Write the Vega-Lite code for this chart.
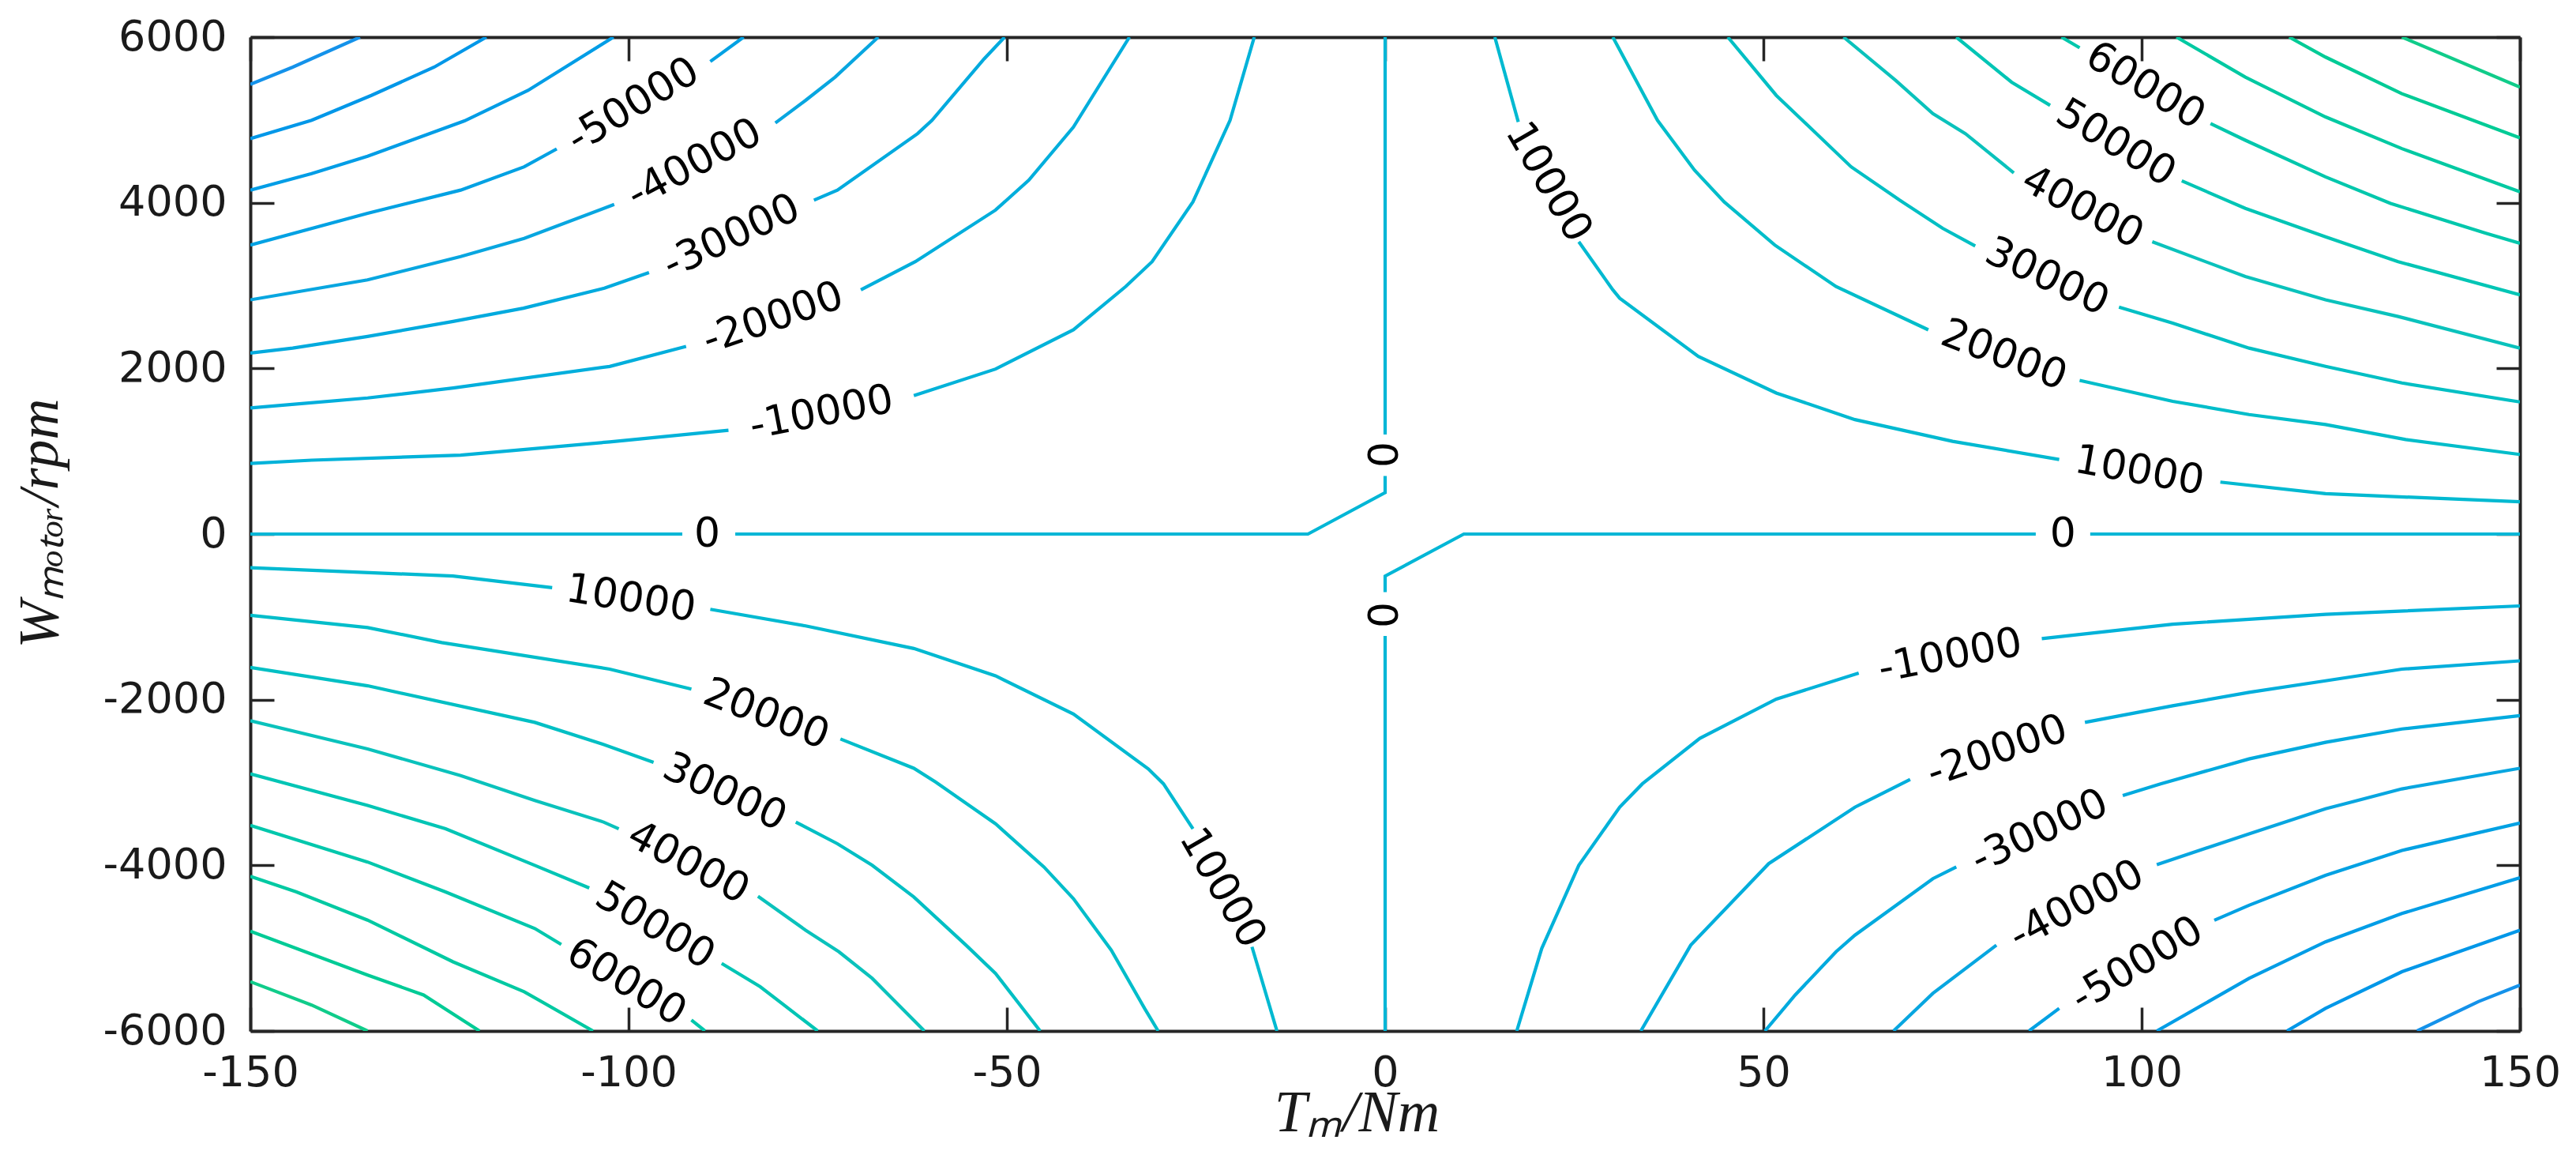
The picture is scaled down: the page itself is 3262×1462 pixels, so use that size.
{
"$schema": "https://vega.github.io/schema/vega-lite/v6.json",
"width": 2874, "height": 1258,
"autosize": {"type": "none"},
"padding": {"left": 317, "top": 47, "right": 71, "bottom": 157},
"background": "white",
"config": {
  "view": {"stroke": null},
  "axis": {"domainColor": "#262626", "domainWidth": 4, "tickColor": "#262626", "tickWidth": 3.5, "tickSize": -30,
           "labelFont": "DejaVu Sans", "labelFontSize": 54, "labelColor": "#1a1a1a", "grid": false, "format": "d",
           "labelFlush": false, "labelOverlap": false, "titleColor": "#1a1a1a"}
},
"datasets": {
"lines": [
{"s":"m10a","v":-10000,"T":-150,"W":852},{"s":"m10a","v":-10000,"T":-141.9,"W":892},{"s":"m10a","v":-10000,"T":-122.2,"W":953},{"s":"m10a","v":-10000,"T":-102.5,"W":1113},{"s":"m10a","v":-10000,"T":-86.8,"W":1254},
{"s":"m10b","v":-10000,"T":-62.3,"W":1671},{"s":"m10b","v":-10000,"T":-51.5,"W":1992},{"s":"m10b","v":-10000,"T":-41.2,"W":2466},{"s":"m10b","v":-10000,"T":-34.3,"W":2988},{"s":"m10b","v":-10000,"T":-30.8,"W":3289},{"s":"m10b","v":-10000,"T":-25.4,"W":4012},{"s":"m10b","v":-10000,"T":-20.5,"W":4996},{"s":"m10b","v":-10000,"T":-17.3,"W":6000},
{"s":"m20a","v":-20000,"T":-150,"W":1523},{"s":"m20a","v":-20000,"T":-134.5,"W":1643},{"s":"m20a","v":-20000,"T":-123.2,"W":1764},{"s":"m20a","v":-20000,"T":-102.5,"W":2024},{"s":"m20a","v":-20000,"T":-92.4,"W":2265},
{"s":"m20b","v":-20000,"T":-69.3,"W":2948},{"s":"m20b","v":-20000,"T":-62.1,"W":3289},{"s":"m20b","v":-20000,"T":-51.5,"W":3912},{"s":"m20b","v":-20000,"T":-47.1,"W":4273},{"s":"m20b","v":-20000,"T":-41.2,"W":4915},{"s":"m20b","v":-20000,"T":-33.8,"W":6000},
{"s":"m30a","v":-30000,"T":-150,"W":2185},{"s":"m30a","v":-30000,"T":-144.4,"W":2245},{"s":"m30a","v":-30000,"T":-134.5,"W":2386},{"s":"m30a","v":-30000,"T":-123.2,"W":2567},{"s":"m30a","v":-30000,"T":-113.9,"W":2727},{"s":"m30a","v":-30000,"T":-103.2,"W":2968},{"s":"m30a","v":-30000,"T":-97.3,"W":3157},
{"s":"m30b","v":-30000,"T":-75.5,"W":4032},{"s":"m30b","v":-30000,"T":-72.4,"W":4153},{"s":"m30b","v":-30000,"T":-61.8,"W":4835},{"s":"m30b","v":-30000,"T":-59.9,"W":4996},{"s":"m30b","v":-30000,"T":-53.0,"W":5738},{"s":"m30b","v":-30000,"T":-50.3,"W":6000},
{"s":"m40a","v":-40000,"T":-150,"W":2828},{"s":"m40a","v":-40000,"T":-134.5,"W":3069},{"s":"m40a","v":-40000,"T":-122.2,"W":3350},{"s":"m40a","v":-40000,"T":-113.8,"W":3570},{"s":"m40a","v":-40000,"T":-101.9,"W":3980},
{"s":"m40b","v":-40000,"T":-80.6,"W":4964},{"s":"m40b","v":-40000,"T":-76.6,"W":5237},{"s":"m40b","v":-40000,"T":-72.7,"W":5518},{"s":"m40b","v":-40000,"T":-67.0,"W":6000},
{"s":"m50a","v":-50000,"T":-150,"W":3490},{"s":"m50a","v":-50000,"T":-134.5,"W":3872},{"s":"m50a","v":-50000,"T":-122.2,"W":4153},{"s":"m50a","v":-50000,"T":-113.8,"W":4434},{"s":"m50a","v":-50000,"T":-109.5,"W":4650},
{"s":"m50b","v":-50000,"T":-89.2,"W":5706},{"s":"m50b","v":-50000,"T":-84.8,"W":6000},
{"s":"m60","v":-60000,"T":-150,"W":4153},{"s":"m60","v":-60000,"T":-141.9,"W":4353},{"s":"m60","v":-60000,"T":-134.5,"W":4562},{"s":"m60","v":-60000,"T":-121.7,"W":4988},{"s":"m60","v":-60000,"T":-113.3,"W":5357},{"s":"m60","v":-60000,"T":-102.0,"W":6000},
{"s":"m70","v":-70000,"T":-150,"W":4775},{"s":"m70","v":-70000,"T":-141.9,"W":4996},{"s":"m70","v":-70000,"T":-134.0,"W":5297},{"s":"m70","v":-70000,"T":-125.7,"W":5638},{"s":"m70","v":-70000,"T":-118.8,"W":6000},
{"s":"m80","v":-80000,"T":-150,"W":5429},{"s":"m80","v":-80000,"T":-144.4,"W":5638},{"s":"m80","v":-80000,"T":-135.5,"W":6000},
{"s":"p10a","v":10000,"T":14.5,"W":6000},{"s":"p10a","v":10000,"T":17.6,"W":4976},
{"s":"p10b","v":10000,"T":25.6,"W":3530},{"s":"p10b","v":10000,"T":30.1,"W":2948},{"s":"p10b","v":10000,"T":31.0,"W":2848},{"s":"p10b","v":10000,"T":41.4,"W":2145},{"s":"p10b","v":10000,"T":51.7,"W":1703},{"s":"p10b","v":10000,"T":62.1,"W":1382},{"s":"p10b","v":10000,"T":75.0,"W":1120},{"s":"p10b","v":10000,"T":89.1,"W":900},
{"s":"p10c","v":10000,"T":110.4,"W":627},{"s":"p10c","v":10000,"T":124.3,"W":487},{"s":"p10c","v":10000,"T":150,"W":390},
{"s":"p20a","v":20000,"T":30.1,"W":6000},{"s":"p20a","v":20000,"T":36.0,"W":4996},{"s":"p20a","v":20000,"T":40.9,"W":4393},{"s":"p20a","v":20000,"T":44.8,"W":4012},{"s":"p20a","v":20000,"T":51.5,"W":3490},{"s":"p20a","v":20000,"T":59.6,"W":2988},{"s":"p20a","v":20000,"T":71.8,"W":2466},
{"s":"p20b","v":20000,"T":91.8,"W":1856},{"s":"p20b","v":20000,"T":104.1,"W":1603},{"s":"p20b","v":20000,"T":114.2,"W":1443},{"s":"p20b","v":20000,"T":124.3,"W":1322},{"s":"p20b","v":20000,"T":134.9,"W":1141},{"s":"p20b","v":20000,"T":150,"W":961},
{"s":"p30a","v":30000,"T":45.3,"W":6000},{"s":"p30a","v":30000,"T":51.7,"W":5297},{"s":"p30a","v":30000,"T":61.6,"W":4434},{"s":"p30a","v":30000,"T":68.0,"W":4032},{"s":"p30a","v":30000,"T":73.7,"W":3691},{"s":"p30a","v":30000,"T":78.0,"W":3478},
{"s":"p30b","v":30000,"T":97.0,"W":2739},{"s":"p30b","v":30000,"T":104.1,"W":2546},{"s":"p30b","v":30000,"T":114.2,"W":2245},{"s":"p30b","v":30000,"T":124.3,"W":2025},{"s":"p30b","v":30000,"T":134.4,"W":1824},{"s":"p30b","v":30000,"T":150,"W":1595},
{"s":"p40a","v":40000,"T":60.6,"W":6000},{"s":"p40a","v":40000,"T":67.5,"W":5477},{"s":"p40a","v":40000,"T":72.4,"W":5076},{"s":"p40a","v":40000,"T":76.7,"W":4835},{"s":"p40a","v":40000,"T":83.1,"W":4361},
{"s":"p40b","v":40000,"T":101.4,"W":3530},{"s":"p40b","v":40000,"T":113.7,"W":3109},{"s":"p40b","v":40000,"T":124.3,"W":2828},{"s":"p40b","v":40000,"T":133.9,"W":2627},{"s":"p40b","v":40000,"T":150,"W":2245},
{"s":"p50a","v":50000,"T":75.5,"W":6000},{"s":"p50a","v":50000,"T":82.8,"W":5457},{"s":"p50a","v":50000,"T":87.9,"W":5176},
{"s":"p50b","v":50000,"T":105.3,"W":4265},{"s":"p50b","v":50000,"T":113.7,"W":3932},{"s":"p50b","v":50000,"T":124.3,"W":3590},{"s":"p50b","v":50000,"T":133.9,"W":3289},{"s":"p50b","v":50000,"T":150,"W":2888},
{"s":"p60a","v":60000,"T":89.4,"W":6000},{"s":"p60a","v":60000,"T":91.8,"W":5871},
{"s":"p60b","v":60000,"T":109.1,"W":4956},{"s":"p60b","v":60000,"T":113.7,"W":4755},{"s":"p60b","v":60000,"T":124.3,"W":4313},{"s":"p60b","v":60000,"T":132.9,"W":3992},{"s":"p60b","v":60000,"T":145.5,"W":3631},{"s":"p60b","v":60000,"T":150,"W":3510},
{"s":"p70","v":70000,"T":104.6,"W":6000},{"s":"p70","v":70000,"T":113.7,"W":5518},{"s":"p70","v":70000,"T":124.3,"W":5036},{"s":"p70","v":70000,"T":134.4,"W":4654},{"s":"p70","v":70000,"T":150,"W":4132},
{"s":"p80","v":80000,"T":119.5,"W":6000},{"s":"p80","v":80000,"T":124.3,"W":5759},{"s":"p80","v":80000,"T":134.4,"W":5317},{"s":"p80","v":80000,"T":150,"W":4783},
{"s":"p90","v":90000,"T":134.4,"W":6000},{"s":"p90","v":90000,"T":150,"W":5397},
{"s":"q10a","v":10000,"T":-150,"W":-407},{"s":"q10a","v":10000,"T":-123.2,"W":-507},{"s":"q10a","v":10000,"T":-110.1,"W":-648},
{"s":"q10b","v":10000,"T":-89.2,"W":-909},{"s":"q10b","v":10000,"T":-76.6,"W":-1109},{"s":"q10b","v":10000,"T":-62.3,"W":-1382},{"s":"q10b","v":10000,"T":-51.5,"W":-1712},{"s":"q10b","v":10000,"T":-41.2,"W":-2173},{"s":"q10b","v":10000,"T":-31.3,"W":-2836},{"s":"q10b","v":10000,"T":-29.3,"W":-3016},{"s":"q10b","v":10000,"T":-25.4,"W":-3559},
{"s":"q10c","v":10000,"T":-17.6,"W":-4984},{"s":"q10c","v":10000,"T":-14.3,"W":-6000},
{"s":"q20a","v":20000,"T":-150,"W":-981},{"s":"q20a","v":20000,"T":-134.5,"W":-1129},{"s":"q20a","v":20000,"T":-124.7,"W":-1310},{"s":"q20a","v":20000,"T":-102.5,"W":-1631},{"s":"q20a","v":20000,"T":-91.7,"W":-1872},
{"s":"q20b","v":20000,"T":-72.0,"W":-2474},{"s":"q20b","v":20000,"T":-62.3,"W":-2828},{"s":"q20b","v":20000,"T":-59.4,"W":-2996},{"s":"q20b","v":20000,"T":-51.5,"W":-3498},{"s":"q20b","v":20000,"T":-45.1,"W":-4020},{"s":"q20b","v":20000,"T":-41.2,"W":-4402},{"s":"q20b","v":20000,"T":-36.2,"W":-5024},{"s":"q20b","v":20000,"T":-31.8,"W":-5727},{"s":"q20b","v":20000,"T":-30.0,"W":-6000},
{"s":"q30a","v":30000,"T":-150,"W":-1611},{"s":"q30a","v":30000,"T":-134.5,"W":-1832},{"s":"q30a","v":30000,"T":-112.4,"W":-2274},{"s":"q30a","v":30000,"T":-103.5,"W":-2535},{"s":"q30a","v":30000,"T":-96.7,"W":-2756},
{"s":"q30b","v":30000,"T":-77.9,"W":-3478},{"s":"q30b","v":30000,"T":-72.4,"W":-3739},{"s":"q30b","v":30000,"T":-67.8,"W":-4000},{"s":"q30b","v":30000,"T":-62.3,"W":-4382},{"s":"q30b","v":30000,"T":-55.4,"W":-4964},{"s":"q30b","v":30000,"T":-51.5,"W":-5305},{"s":"q30b","v":30000,"T":-45.6,"W":-6000},
{"s":"q40a","v":40000,"T":-150,"W":-2254},{"s":"q40a","v":40000,"T":-134.5,"W":-2595},{"s":"q40a","v":40000,"T":-122.2,"W":-2916},{"s":"q40a","v":40000,"T":-112.4,"W":-3217},{"s":"q40a","v":40000,"T":-103.3,"W":-3478},{"s":"q40a","v":40000,"T":-101.3,"W":-3559},
{"s":"q40b","v":40000,"T":-82.9,"W":-4374},{"s":"q40b","v":40000,"T":-76.6,"W":-4783},{"s":"q40b","v":40000,"T":-72.2,"W":-5044},{"s":"q40b","v":40000,"T":-67.8,"W":-5365},{"s":"q40b","v":40000,"T":-60.9,"W":-6000},
{"s":"q50a","v":50000,"T":-150,"W":-2896},{"s":"q50a","v":50000,"T":-134.5,"W":-3277},{"s":"q50a","v":50000,"T":-124.2,"W":-3559},{"s":"q50a","v":50000,"T":-112.4,"W":-4000},{"s":"q50a","v":50000,"T":-105.2,"W":-4273},
{"s":"q50b","v":50000,"T":-87.7,"W":-5185},{"s":"q50b","v":50000,"T":-82.6,"W":-5466},{"s":"q50b","v":50000,"T":-75.0,"W":-6000},
{"s":"q60a","v":60000,"T":-150,"W":-3518},{"s":"q60a","v":60000,"T":-134.5,"W":-3960},{"s":"q60a","v":60000,"T":-124.2,"W":-4321},{"s":"q60a","v":60000,"T":-112.4,"W":-4763},{"s":"q60a","v":60000,"T":-108.9,"W":-4956},
{"s":"q60b","v":60000,"T":-91.7,"W":-5867},{"s":"q60b","v":60000,"T":-89.9,"W":-6000},
{"s":"q70","v":70000,"T":-150,"W":-4133},{"s":"q70","v":70000,"T":-143.9,"W":-4321},{"s":"q70","v":70000,"T":-134.5,"W":-4662},{"s":"q70","v":70000,"T":-123.2,"W":-5165},{"s":"q70","v":70000,"T":-113.8,"W":-5526},{"s":"q70","v":70000,"T":-104.7,"W":-6000},
{"s":"q80","v":80000,"T":-150,"W":-4795},{"s":"q80","v":80000,"T":-134.5,"W":-5325},{"s":"q80","v":80000,"T":-127.1,"W":-5566},{"s":"q80","v":80000,"T":-119.7,"W":-6000},
{"s":"q90","v":90000,"T":-150,"W":-5405},{"s":"q90","v":90000,"T":-141.9,"W":-5687},{"s":"q90","v":90000,"T":-134.5,"W":-6000},
{"s":"n10a","v":-10000,"T":17.4,"W":-6000},{"s":"n10a","v":-10000,"T":20.7,"W":-5004},{"s":"n10a","v":-10000,"T":25.6,"W":-4000},{"s":"n10a","v":-10000,"T":31.0,"W":-3298},{"s":"n10a","v":-10000,"T":34.0,"W":-3016},{"s":"n10a","v":-10000,"T":41.6,"W":-2466},{"s":"n10a","v":-10000,"T":51.7,"W":-1993},{"s":"n10a","v":-10000,"T":62.6,"W":-1680},
{"s":"n10b","v":-10000,"T":86.8,"W":-1262},{"s":"n10b","v":-10000,"T":104.1,"W":-1089},{"s":"n10b","v":-10000,"T":124.3,"W":-969},{"s":"n10b","v":-10000,"T":150,"W":-868},
{"s":"n20a","v":-20000,"T":33.8,"W":-6000},{"s":"n20a","v":-20000,"T":40.4,"W":-4964},{"s":"n20a","v":-20000,"T":50.7,"W":-3980},{"s":"n20a","v":-20000,"T":62.1,"W":-3298},{"s":"n20a","v":-20000,"T":69.4,"W":-2964},
{"s":"n20b","v":-20000,"T":92.5,"W":-2274},{"s":"n20b","v":-20000,"T":104.1,"W":-2073},{"s":"n20b","v":-20000,"T":114.2,"W":-1912},{"s":"n20b","v":-20000,"T":124.3,"W":-1772},{"s":"n20b","v":-20000,"T":134.4,"W":-1631},{"s":"n20b","v":-20000,"T":150,"W":-1531},
{"s":"n30a","v":-30000,"T":50.2,"W":-6000},{"s":"n30a","v":-30000,"T":54.2,"W":-5566},{"s":"n30a","v":-30000,"T":59.6,"W":-5044},{"s":"n30a","v":-30000,"T":62.1,"W":-4843},{"s":"n30a","v":-30000,"T":72.4,"W":-4161},{"s":"n30a","v":-30000,"T":75.5,"W":-4020},
{"s":"n30b","v":-30000,"T":97.5,"W":-3157},{"s":"n30b","v":-30000,"T":102.5,"W":-3016},{"s":"n30b","v":-30000,"T":114.2,"W":-2715},{"s":"n30b","v":-30000,"T":124.3,"W":-2515},{"s":"n30b","v":-30000,"T":134.4,"W":-2354},{"s":"n30b","v":-30000,"T":150,"W":-2193},
{"s":"n40a","v":-40000,"T":67.2,"W":-6000},{"s":"n40a","v":-40000,"T":72.4,"W":-5546},{"s":"n40a","v":-40000,"T":80.8,"W":-4964},
{"s":"n40b","v":-40000,"T":102.0,"W":-3992},{"s":"n40b","v":-40000,"T":114.2,"W":-3619},{"s":"n40b","v":-40000,"T":124.3,"W":-3318},{"s":"n40b","v":-40000,"T":134.4,"W":-3077},{"s":"n40b","v":-40000,"T":150,"W":-2828},
{"s":"n50a","v":-50000,"T":85.1,"W":-6000},{"s":"n50a","v":-50000,"T":89.1,"W":-5727},
{"s":"n50b","v":-50000,"T":109.6,"W":-4663},{"s":"n50b","v":-50000,"T":114.2,"W":-4482},{"s":"n50b","v":-50000,"T":124.3,"W":-4121},{"s":"n50b","v":-50000,"T":134.4,"W":-3820},{"s":"n50b","v":-50000,"T":150,"W":-3490},
{"s":"n60","v":-60000,"T":102.0,"W":-6000},{"s":"n60","v":-60000,"T":114.2,"W":-5365},{"s":"n60","v":-60000,"T":124.3,"W":-4924},{"s":"n60","v":-60000,"T":134.4,"W":-4582},{"s":"n60","v":-60000,"T":150,"W":-4149},
{"s":"n70","v":-70000,"T":119.2,"W":-6000},{"s":"n70","v":-70000,"T":124.3,"W":-5727},{"s":"n70","v":-70000,"T":134.4,"W":-5285},{"s":"n70","v":-70000,"T":150,"W":-4783},
{"s":"n80","v":-80000,"T":136.4,"W":-6000},{"s":"n80","v":-80000,"T":144.5,"W":-5646},{"s":"n80","v":-80000,"T":150,"W":-5446},
{"s":"z1","v":0,"T":-150,"W":0},{"s":"z1","v":0,"T":-92.9,"W":0},
{"s":"z2","v":0,"T":-85.9,"W":0},{"s":"z2","v":0,"T":-10.2,"W":0},{"s":"z2","v":0,"T":0,"W":500},{"s":"z2","v":0,"T":0,"W":700},
{"s":"z3","v":0,"T":0,"W":1202},{"s":"z3","v":0,"T":0,"W":6000},
{"s":"z4","v":0,"T":0,"W":-6000},{"s":"z4","v":0,"T":0,"W":-1230},
{"s":"z5","v":0,"T":0,"W":-700},{"s":"z5","v":0,"T":0,"W":-507},{"s":"z5","v":0,"T":10.4,"W":0},{"s":"z5","v":0,"T":86.0,"W":0},
{"s":"z6","v":0,"T":93.2,"W":0},{"s":"z6","v":0,"T":150,"W":0}
],
"labels": [
{"T":-89.6,"W":0,"t":"0","a":0},{"T":89.6,"W":0,"t":"0","a":0},{"T":0,"W":960,"t":"0","a":-90},{"T":0,"W":-977,"t":"0","a":-90},
{"T":-74.5,"W":1463,"t":"-10000","a":-11},{"T":-80.9,"W":2607,"t":"-20000","a":-19},{"T":-86.4,"W":3594,"t":"-30000","a":-25},{"T":-91.3,"W":4472,"t":"-40000","a":-28},{"T":-99.4,"W":5178,"t":"-50000","a":-31},
{"T":21.6,"W":4252,"t":"10000","a":60},{"T":99.7,"W":764,"t":"10000","a":10},{"T":81.8,"W":2161,"t":"20000","a":21},{"T":87.5,"W":3108,"t":"30000","a":25},{"T":92.2,"W":3945,"t":"40000","a":28},{"T":96.6,"W":4721,"t":"50000","a":31},{"T":100.5,"W":5413,"t":"60000","a":31},
{"T":-99.7,"W":-779,"t":"10000","a":9},{"T":-21.5,"W":-4272,"t":"10000","a":60},{"T":-81.8,"W":-2174,"t":"20000","a":21},{"T":-87.3,"W":-3117,"t":"30000","a":25},{"T":-92.1,"W":-3967,"t":"40000","a":28},{"T":-96.5,"W":-4729,"t":"50000","a":31},{"T":-100.3,"W":-5412,"t":"60000","a":31},
{"T":74.7,"W":-1471,"t":"-10000","a":-11},{"T":80.9,"W":-2620,"t":"-20000","a":-19},{"T":86.5,"W":-3590,"t":"-30000","a":-25},{"T":91.4,"W":-4479,"t":"-40000","a":-28},{"T":99.4,"W":-5194,"t":"-50000","a":-31}
]
},
"resolve": {"axis": {"x": "independent", "y": "independent"}},
"layer": [
{
 "data": {"name": "lines"},
 "mark": {"type": "line", "strokeWidth": 4.2, "clip": true},
 "encoding": {
  "x": {"field": "T", "type": "quantitative", "scale": {"domain": [-150, 150], "nice": false, "zero": false},
        "axis": {"orient": "bottom", "values": [-150,-100,-50,0,50,100,150], "labelPadding": 56, "labelExpr": "replace(datum.label, '\u2212', '-')",
                 "title": "T\u2098/Nm", "titleFont": "Liberation Serif", "titleFontStyle": "italic", "titleFontWeight": "normal", "titleFontSize": 74,
                 "titleX": 1401, "titleY": 126, "titleBaseline": "alphabetic", "titleAlign": "center", "titleAnchor": null}},
  "y": {"field": "W", "type": "quantitative", "scale": {"domain": [-6000, 6000], "nice": false, "zero": false},
        "axis": {"orient": "left", "values": [-6000,-4000,-2000,0,2000,4000,6000], "labelPadding": 60, "labelExpr": "replace(datum.label, '\u2212', '-')",
                 "title": "W\u2098\u2092\u209c\u2092\u1d63/rpm", "titleFont": "Liberation Serif", "titleFontStyle": "italic", "titleFontWeight": "normal", "titleFontSize": 72,
                 "titleX": -245, "titleY": 615, "titleAngle": -90, "titleBaseline": "alphabetic", "titleAlign": "center", "titleAnchor": null}},
  "detail": {"field": "s", "type": "nominal"},
  "color": {"field": "v", "type": "quantitative", "legend": null,
            "scale": {"domain": [-80000, -40000, 0, 40000, 90000], "range": ["#1492ea", "#08a6e0", "#00b6d6", "#0ac2bc", "#10cc8a"]}},
  "order": {"value": null}
 }
},
{
 "data": {"name": "labels"},
 "mark": {"type": "text", "font": "DejaVu Sans", "fontSize": 52, "align": "center", "baseline": "middle", "color": "#000000"},
 "encoding": {
  "x": {"field": "T", "type": "quantitative", "scale": {"domain": [-150, 150], "nice": false, "zero": false},
        "axis": {"orient": "top", "values": [-150,-100,-50,0,50,100,150], "labels": false, "title": null}},
  "y": {"field": "W", "type": "quantitative", "scale": {"domain": [-6000, 6000], "nice": false, "zero": false},
        "axis": {"orient": "right", "values": [-6000,-4000,-2000,0,2000,4000,6000], "labels": false, "title": null}},
  "text": {"field": "t", "type": "nominal"},
  "angle": {"field": "a", "type": "quantitative", "scale": null}
 }
}
]
}
